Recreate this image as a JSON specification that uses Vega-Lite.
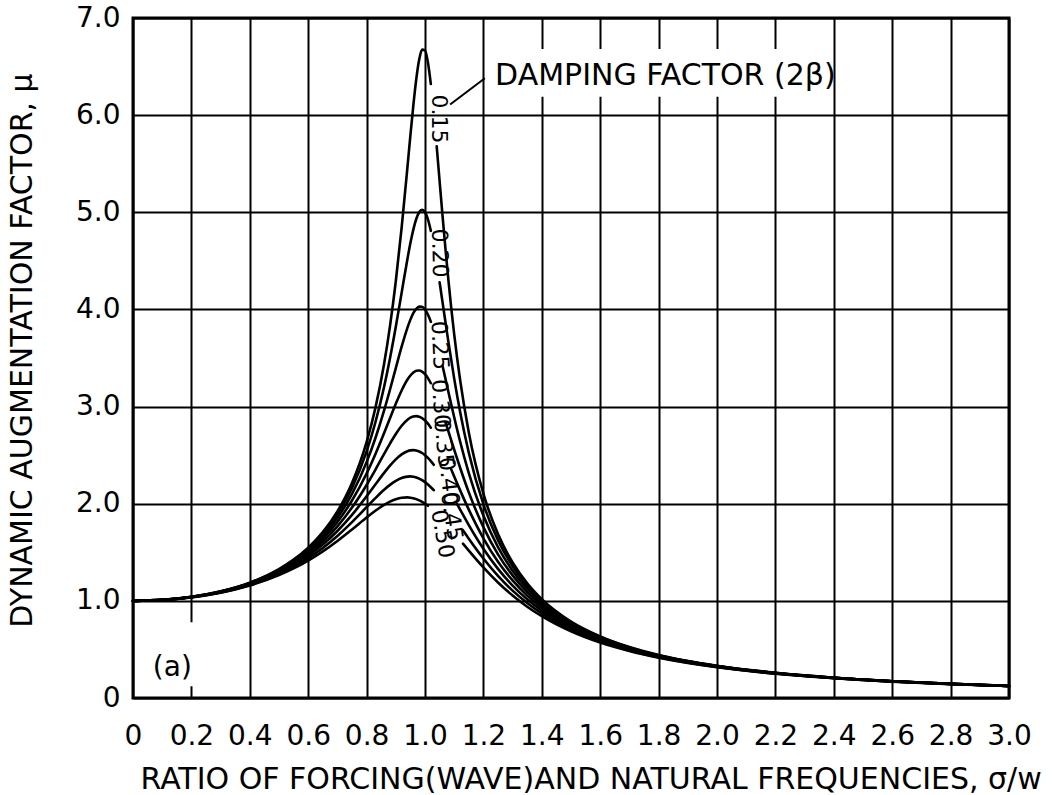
{
  "$schema": "https://vega.github.io/schema/vega-lite/v6.json",
  "width": 876,
  "height": 680,
  "autosize": {"type": "none"},
  "padding": {"left": 133, "top": 18, "right": 46, "bottom": 97},
  "background": "white",
  "config": {
    "view": {"stroke": "black", "strokeWidth": 3},
    "font": "DejaVu Sans",
    "axis": {
      "grid": true,
      "gridColor": "black",
      "gridWidth": 2,
      "gridOpacity": 1,
      "domain": false,
      "ticks": false,
      "labelColor": "black",
      "titleColor": "black",
      "labelFont": "DejaVu Sans",
      "titleFont": "DejaVu Sans",
      "labelFontSize": 28,
      "titleFontSize": 30,
      "titleFontWeight": "normal",
      "labelOverlap": false,
      "labelFlush": false,
      "labelBound": false
    }
  },
  "datasets": {
    "curves": [
      {"r": 0, "part": "rise", "d15": 1, "d20": 1, "d25": 1, "d30": 1, "d35": 1, "d40": 1, "d45": 1, "d50": 1},
      {"r": 0.1, "part": "rise", "d15": 1.010, "d20": 1.010, "d25": 1.010, "d30": 1.010, "d35": 1.009, "d40": 1.009, "d45": 1.009, "d50": 1.009},
      {"r": 0.2, "part": "rise", "d15": 1.041, "d20": 1.041, "d25": 1.040, "d30": 1.040, "d35": 1.039, "d40": 1.038, "d45": 1.037, "d50": 1.036},
      {"r": 0.3, "part": "rise", "d15": 1.098, "d20": 1.097, "d25": 1.095, "d30": 1.094, "d35": 1.092, "d40": 1.089, "d45": 1.087, "d50": 1.084},
      {"r": 0.4, "part": "rise", "d15": 1.187, "d20": 1.185, "d25": 1.182, "d30": 1.179, "d35": 1.174, "d40": 1.169, "d45": 1.164, "d50": 1.158},
      {"r": 0.5, "part": "rise", "d15": 1.327, "d20": 1.322, "d25": 1.315, "d30": 1.307, "d35": 1.298, "d40": 1.288, "d45": 1.277, "d50": 1.265},
      {"r": 0.55, "part": "rise", "d15": 1.424, "d20": 1.416, "d25": 1.407, "d30": 1.395, "d35": 1.382, "d40": 1.367, "d45": 1.351, "d50": 1.334},
      {"r": 0.6, "part": "rise", "d15": 1.547, "d20": 1.536, "d25": 1.521, "d30": 1.504, "d35": 1.485, "d40": 1.463, "d45": 1.440, "d50": 1.415},
      {"r": 0.65, "part": "rise", "d15": 1.707, "d20": 1.689, "d25": 1.667, "d30": 1.641, "d35": 1.611, "d40": 1.579, "d45": 1.545, "d50": 1.509},
      {"r": 0.7, "part": "rise", "d15": 1.921, "d20": 1.891, "d25": 1.855, "d30": 1.813, "d35": 1.767, "d40": 1.719, "d45": 1.668, "d50": 1.617},
      {"r": 0.75, "part": "rise", "d15": 2.214, "d20": 2.162, "d25": 2.101, "d30": 2.033, "d35": 1.960, "d40": 1.885, "d45": 1.810, "d50": 1.735},
      {"r": 0.8, "part": "rise", "d15": 2.635, "d20": 2.538, "d25": 2.428, "d30": 2.311, "d35": 2.193, "d40": 2.076, "d45": 1.964, "d50": 1.858},
      {"r": 0.83, "part": "rise", "d15": 2.984, "d20": 2.836, "d25": 2.674, "d30": 2.510, "d35": 2.349, "d40": 2.198, "d45": 2.057, "d50": 1.928},
      {"r": 0.86, "part": "rise", "d15": 3.441, "d20": 3.204, "d25": 2.961, "d30": 2.728, "d35": 2.513, "d40": 2.318, "d45": 2.144, "d50": 1.989},
      {"r": 0.88, "part": "rise", "d15": 3.826, "d20": 3.495, "d25": 3.173, "d30": 2.880, "d35": 2.619, "d40": 2.392, "d45": 2.194, "d50": 2.022},
      {"r": 0.9, "part": "rise", "d15": 4.290, "d20": 3.821, "d25": 3.396, "d30": 3.029, "d35": 2.718, "d40": 2.457, "d45": 2.235, "d50": 2.047},
      {"r": 0.92, "part": "rise", "d15": 4.843, "d20": 4.172, "d25": 3.616, "d30": 3.166, "d35": 2.803, "d40": 2.508, "d45": 2.265, "d50": 2.062},
      {"r": 0.94, "part": "rise", "d15": 5.469, "d20": 4.522, "d25": 3.813, "d30": 3.278, "d35": 2.865, "d40": 2.541, "d45": 2.279, "d50": 2.065},
      {"r": 0.95, "part": "rise", "d15": 5.792, "d20": 4.683, "d25": 3.895, "d30": 3.320, "d35": 2.886, "d40": 2.549, "d45": 2.281, "d50": 2.062},
      {"r": 0.96, "part": "rise", "d15": 6.099, "d20": 4.822, "d25": 3.961, "d30": 3.350, "d35": 2.898, "d40": 2.552, "d45": 2.278, "d50": 2.056},
      {"r": 0.97, "part": "rise", "d15": 6.368, "d20": 4.931, "d25": 4.006, "d30": 3.368, "d35": 2.902, "d40": 2.548, "d45": 2.270, "d50": 2.047},
      {"r": 0.98, "part": "rise", "d15": 6.569, "d20": 5.001, "d25": 4.029, "d30": 3.371, "d35": 2.896, "d40": 2.538, "d45": 2.258, "d50": 2.034},
      {"r": 0.99, "part": "rise", "d15": 6.674, "d20": 5.025, "d25": 4.027, "d30": 3.359, "d35": 2.881, "d40": 2.522, "d45": 2.242, "d50": 2.019},
      {"r": 1.0, "part": "rise", "d15": 6.667, "d20": 5.000, "d25": 4.000, "d30": 3.333, "d35": 2.857, "d40": 2.500, "d45": 2.222, "d50": 2.000},
      {"r": 1.01, "part": "rise", "d15": 6.543, "d20": 4.926, "d25": 3.948, "d30": 3.293, "d35": 2.824, "d40": 2.472, "d45": 2.198, "d50": 1.979},
      {"r": 1.02, "part": "rise", "d15": 6.320, "d20": 4.809, "d25": 3.873, "d30": 3.240, "d35": 2.783, "d40": 2.439, "d45": 2.170},
      {"r": 1.03, "part": "rise", "d40": 2.401, "d45": 2.139},
      {"r": 1.04, "part": "fall", "d15": 5.680},
      {"r": 1.05, "part": "fall", "d15": 5.322, "d20": 4.279},
      {"r": 1.06, "part": "fall", "d15": 4.965, "d20": 4.075, "d25": 3.420},
      {"r": 1.07, "part": "fall", "d15": 4.625, "d30": 2.839},
      {"r": 1.08, "part": "fall", "d15": 4.306, "d20": 3.668, "d25": 3.153, "d30": 2.746},
      {"r": 1.09, "part": "fall", "d15": 4.012, "d35": 2.351},
      {"r": 1.1, "part": "fall", "d15": 3.744, "d20": 3.288, "d25": 2.890, "d30": 2.557, "d35": 2.280},
      {"r": 1.11, "part": "fall", "d40": 1.996},
      {"r": 1.12, "part": "fall", "d15": 3.280, "d20": 2.950, "d25": 2.643, "d30": 2.373, "d35": 2.140, "d40": 1.941},
      {"r": 1.13, "part": "fall", "d45": 1.727, "d50": 1.589},
      {"r": 1.15, "part": "fall", "d15": 2.734, "d20": 2.525, "d25": 2.315, "d30": 2.117, "d35": 1.939, "d40": 1.780, "d45": 1.640, "d50": 1.517},
      {"r": 1.2, "part": "fall", "d15": 2.104, "d20": 1.995, "d25": 1.878, "d30": 1.759, "d35": 1.644, "d40": 1.536, "d45": 1.436, "d50": 1.344},
      {"r": 1.25, "part": "fall", "d15": 1.687, "d20": 1.625, "d25": 1.554, "d30": 1.479, "d35": 1.403, "d40": 1.329, "d45": 1.257, "d50": 1.189},
      {"r": 1.3, "part": "fall", "d15": 1.395, "d20": 1.356, "d25": 1.311, "d30": 1.262, "d35": 1.210, "d40": 1.157, "d45": 1.105, "d50": 1.055},
      {"r": 1.35, "part": "fall", "d15": 1.181, "d20": 1.155, "d25": 1.125, "d30": 1.091, "d35": 1.054, "d40": 1.016, "d45": 0.978, "d50": 0.940},
      {"r": 1.4, "part": "fall", "d15": 1.018, "d20": 1.000, "d25": 0.979, "d30": 0.954, "d35": 0.928, "d40": 0.900, "d45": 0.871, "d50": 0.842},
      {"r": 1.5, "part": "fall", "d15": 0.787, "d20": 0.778, "d25": 0.766, "d30": 0.753, "d35": 0.738, "d40": 0.721, "d45": 0.704, "d50": 0.686},
      {"r": 1.6, "part": "fall", "d15": 0.634, "d20": 0.628, "d25": 0.621, "d30": 0.613, "d35": 0.603, "d40": 0.593, "d45": 0.582, "d50": 0.570},
      {"r": 1.7, "part": "fall", "d15": 0.524, "d20": 0.521, "d25": 0.516, "d30": 0.511, "d35": 0.505, "d40": 0.498, "d45": 0.490, "d50": 0.483},
      {"r": 1.8, "part": "fall", "d15": 0.443, "d20": 0.441, "d25": 0.438, "d30": 0.434, "d35": 0.430, "d40": 0.425, "d45": 0.420, "d50": 0.414},
      {"r": 2.0, "part": "fall", "d15": 0.332, "d20": 0.330, "d25": 0.329, "d30": 0.327, "d35": 0.325, "d40": 0.322, "d45": 0.319, "d50": 0.316},
      {"r": 2.2, "part": "fall", "d15": 0.259, "d20": 0.259, "d25": 0.258, "d30": 0.257, "d35": 0.255, "d40": 0.254, "d45": 0.252, "d50": 0.250},
      {"r": 2.4, "part": "fall", "d15": 0.209, "d20": 0.209, "d25": 0.208, "d30": 0.208, "d35": 0.207, "d40": 0.206, "d45": 0.205, "d50": 0.204},
      {"r": 2.6, "part": "fall", "d15": 0.173, "d20": 0.173, "d25": 0.173, "d30": 0.172, "d35": 0.171, "d40": 0.171, "d45": 0.170, "d50": 0.169},
      {"r": 2.8, "part": "fall", "d15": 0.146, "d20": 0.146, "d25": 0.145, "d30": 0.145, "d35": 0.145, "d40": 0.144, "d45": 0.144, "d50": 0.143},
      {"r": 3.0, "part": "fall", "d15": 0.125, "d20": 0.125, "d25": 0.124, "d30": 0.124, "d35": 0.124, "d40": 0.124, "d45": 0.123, "d50": 0.123}
    ],
    "curveLabels": [
      {"label": "0.15", "r": 1.048, "mu": 5.96},
      {"label": "0.20", "r": 1.050, "mu": 4.58},
      {"label": "0.25", "r": 1.050, "mu": 3.63},
      {"label": "0.30", "r": 1.053, "mu": 3.03},
      {"label": "0.35", "r": 1.064, "mu": 2.62},
      {"label": "0.40", "r": 1.081, "mu": 2.23},
      {"label": "0.45", "r": 1.091, "mu": 1.87},
      {"label": "0.50", "r": 1.060, "mu": 1.69}
    ],
    "blanks": [
      {"r": 1.22, "r2": 2.385, "mu": 6.19, "mu2": 6.68},
      {"r": 0.12, "r2": 0.24, "mu": 0.12, "mu2": 0.78}
    ],
    "leader": [
      {"r": 1.086, "mu": 6.11, "r2": 1.205, "mu2": 6.38}
    ],
    "heading": [
      {"note": "DAMPING FACTOR (2β)", "r": 1.24, "mu": 6.40}
    ],
    "panel": [
      {"note": "(a)", "r": 0.068, "mu": 0.31}
    ]
  },
  "encoding": {
    "x": {
      "field": "r",
      "type": "quantitative",
      "scale": {"domain": [0, 3], "nice": false, "zero": false},
      "axis": {
        "values": [0, 0.2, 0.4, 0.6, 0.8, 1.0, 1.2, 1.4, 1.6, 1.8, 2.0, 2.2, 2.4, 2.6, 2.8, 3.0],
        "labelExpr": "datum.value === 0 ? '0' : format(datum.value, '.1f')",
        "labelPadding": 24,
        "title": "RATIO OF FORCING(WAVE)AND NATURAL FREQUENCIES, σ/w",
        "titleAnchor": "start",
        "titleAlign": "left",
        "titleBaseline": "alphabetic",
        "titleX": 7,
        "titleY": 90
      }
    },
    "y": {
      "field": "mu",
      "type": "quantitative",
      "scale": {"domain": [0, 7], "nice": false, "zero": false},
      "axis": {
        "values": [0, 1, 2, 3, 4, 5, 6, 7],
        "labelExpr": "datum.value === 0 ? '0' : format(datum.value, '.1f')",
        "labelPadding": 13,
        "title": "DYNAMIC AUGMENTATION FACTOR, μ",
        "titleAngle": -90,
        "titleAlign": "center",
        "titleBaseline": "middle",
        "titleX": -111,
        "titleY": 332
      }
    }
  },
  "layer": [
    {
      "data": {"name": "blanks"},
      "mark": {"type": "rect", "fill": "white", "strokeWidth": 0},
      "encoding": {
        "x2": {"field": "r2"},
        "y2": {"field": "mu2"}
      }
    },
    {
      "data": {"name": "curves"},
      "transform": [
        {"fold": ["d15", "d20", "d25", "d30", "d35", "d40", "d45", "d50"], "as": ["curve", "mu"]},
        {"filter": "isValid(datum.mu)"}
      ],
      "mark": {"type": "line", "color": "black", "strokeWidth": 2.6, "interpolate": "monotone", "strokeCap": "round", "strokeJoin": "round"},
      "encoding": {
        "detail": [{"field": "curve"}, {"field": "part"}]
      }
    },
    {
      "data": {"name": "curveLabels"},
      "mark": {"type": "text", "fontSize": 22, "color": "black", "align": "center", "baseline": "middle"},
      "encoding": {
        "text": {"field": "label"},
        "angle": {
          "field": "label",
          "type": "ordinal",
          "legend": null,
          "scale": {
            "domain": ["0.15", "0.20", "0.25", "0.30", "0.35", "0.40", "0.45", "0.50"],
            "range": [90, 80, 80, 70, 66, 60, 59, 60]
          }
        }
      }
    },
    {
      "data": {"name": "leader"},
      "mark": {"type": "rule", "color": "black", "strokeWidth": 2},
      "encoding": {
        "x2": {"field": "r2"},
        "y2": {"field": "mu2"}
      }
    },
    {
      "data": {"name": "heading"},
      "mark": {"type": "text", "fontSize": 30, "color": "black", "align": "left", "baseline": "middle"},
      "encoding": {
        "text": {"field": "note"}
      }
    },
    {
      "data": {"name": "panel"},
      "mark": {"type": "text", "fontSize": 28, "color": "black", "align": "left", "baseline": "middle"},
      "encoding": {
        "text": {"field": "note"}
      }
    }
  ]
}
